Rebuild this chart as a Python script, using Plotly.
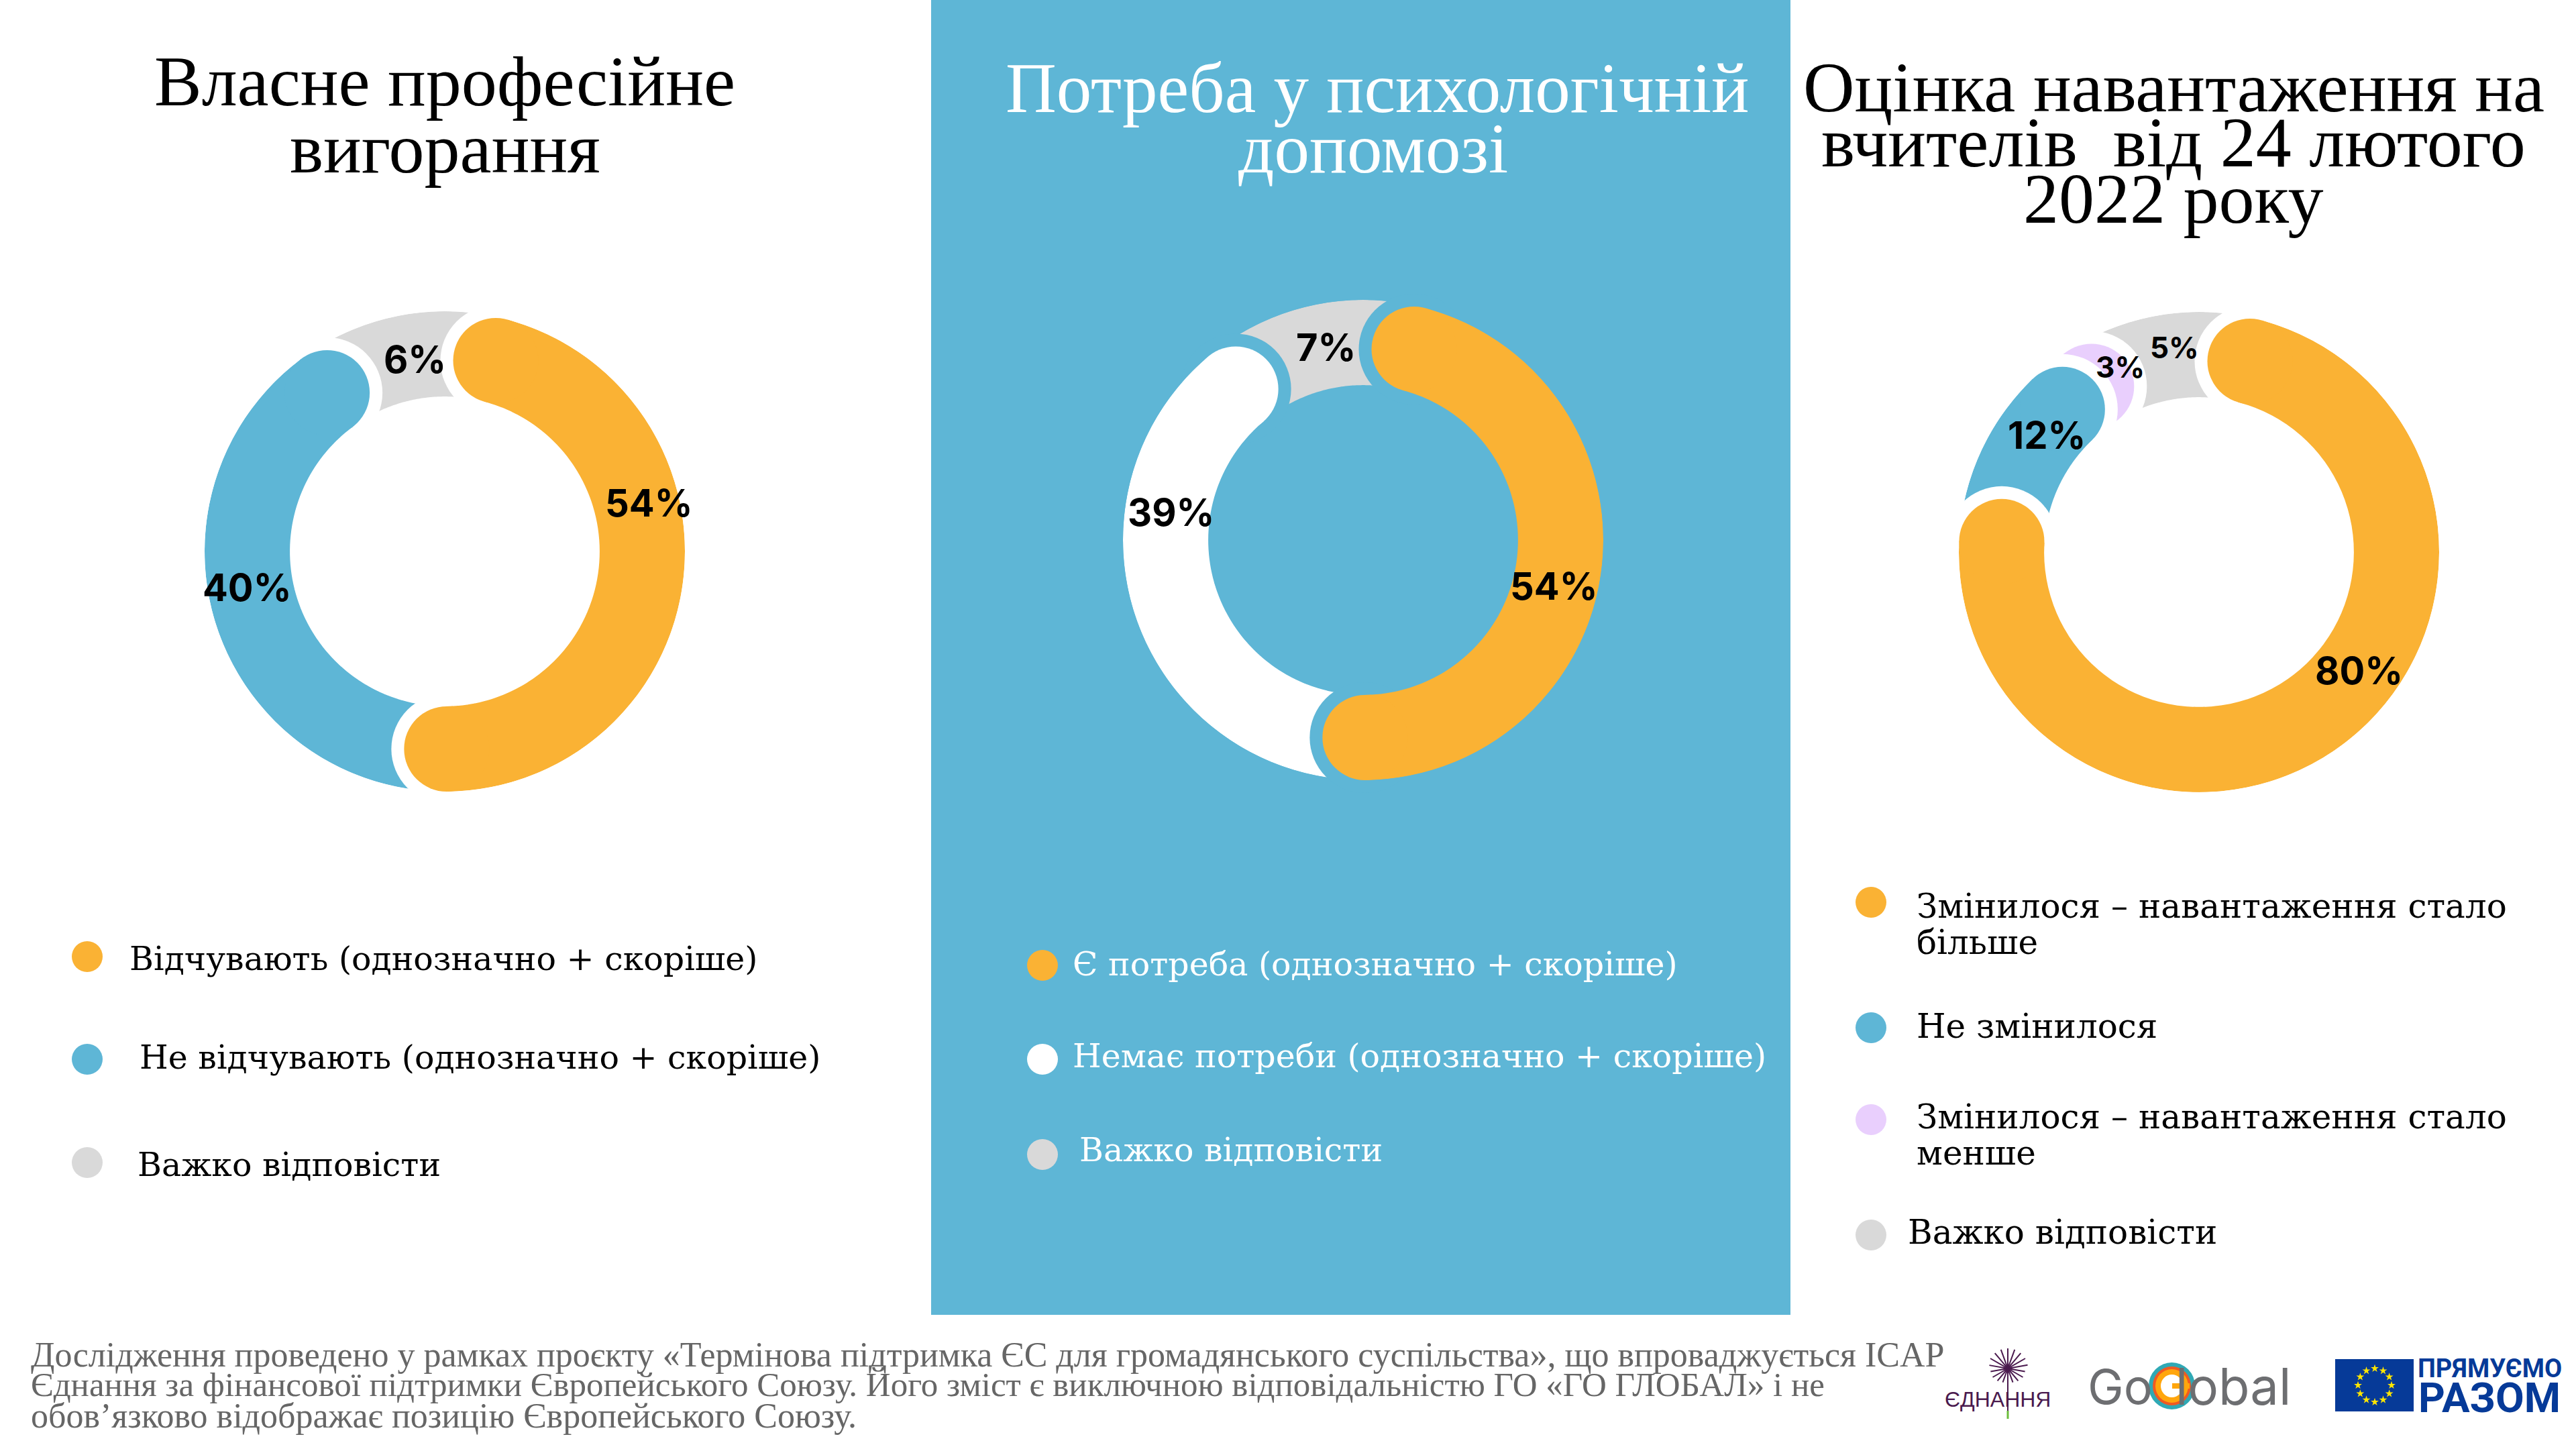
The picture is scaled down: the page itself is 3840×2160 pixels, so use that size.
import numpy as np
import plotly.graph_objects as go

# values, % (clockwise from 12 o'clock)
values_burnout = [54, 40, 6]
values_help = [54, 39, 7]
values_load = [80, 12, 3, 5]

ORANGE = "#FAB234"
BLUE = "#5EB6D6"
GREY = "#D9D9D9"
LILAC = "#E9CFFD"
WHITE = "#FFFFFF"

colors_burnout = [ORANGE, BLUE, GREY]
colors_help = [ORANGE, WHITE, GREY]
colors_load = [ORANGE, BLUE, LILAC, GREY]

titles_burnout = ["Власне професійне", "вигорання"]
titles_help = ["Потреба у психологічній", "допомозі"]
titles_load = ["Оцінка навантаження на", "вчителів\u00a0 від 24 лютого", "2022 року"]

legend_burnout = ["Відчувають (однозначно + скоріше)", "Не відчувають (однозначно + скоріше)", "Важко відповісти"]
legend_help = ["Є потреба (однозначно + скоріше)", "Немає потреби (однозначно + скоріше)", "Важко відповісти"]
legend_load = ["Змінилося – навантаження стало", "більше", "Не змінилося",
               "Змінилося – навантаження стало", "менше", "Важко відповісти"]

footer_lines = [
    "Дослідження проведено у рамках проєкту «Термінова підтримка ЄС для громадянського суспільства», що впроваджується ICAP",
    "Єднання за фінансової підтримки Європейського Союзу. Його зміст є виключною відповідальністю ГО «ГО ГЛОБАЛ» і не",
    "обов’язково відображає позицію Європейського Союзу.",
]

W, H = 3840, 2160
RADIUS = 358
HOLE = 0.645
MID = (1 + HOLE) / 2
THICK = (1 - HOLE) * RADIUS
CAP = np.degrees(np.arcsin((1 - HOLE) / 2 / MID)) + 2.5
GAP = 19
TITLE_FONT = "Liberation Serif"
TEXT_FONT = "DejaVu Serif"
LABEL_FONT = "Inter"

fig = go.Figure()
annotations = []
shapes = []


def text(x, y, s, size, color="#000000", family=TEXT_FONT, anchor="left"):
    annotations.append(dict(x=x, y=y, xref="x", yref="y", text=s, showarrow=False,
                            xanchor=anchor, yanchor="middle",
                            font=dict(size=size, color=color, family=family)))


def donut(values, colors, cx, cy, bg, name):
    fig.update_layout(**{name: dict(
        domain=dict(x=[(cx - RADIUS) / W, (cx + RADIUS) / W],
                    y=[1 - (cy + RADIUS) / H, 1 - (cy - RADIUS) / H]),
        bgcolor="rgba(0,0,0,0)",
        radialaxis=dict(visible=False, range=[0, 1]),
        angularaxis=dict(visible=False, rotation=90, direction="clockwise"),
    )})
    edges = np.cumsum([0] + values) * 3.6
    # last slice goes in first, each later slice bites into the one drawn before it
    for i in reversed(range(len(values))):
        first = i == 0
        last = i == len(values) - 1
        start = edges[i] + CAP if first else edges[i] - CAP
        end = 360 + CAP if last else edges[i + 1] - CAP
        caps = [] if last else [end]
        if first:
            caps.append(start)
        if caps:
            fig.add_trace(go.Scatterpolar(
                r=[MID] * len(caps), theta=caps, subplot=name, mode="markers",
                marker=dict(size=THICK + 2 * GAP, color=bg, line=dict(width=0)),
                hoverinfo="skip", showlegend=False, cliponaxis=False))
        fig.add_trace(go.Scatterpolar(
            r=[MID] * 80, theta=np.linspace(start, end, 80), subplot=name, mode="lines",
            line=dict(width=THICK, color=colors[i]),
            hoverinfo="skip", showlegend=False, cliponaxis=False))
        if caps:
            fig.add_trace(go.Scatterpolar(
                r=[MID] * len(caps), theta=caps, subplot=name, mode="markers",
                marker=dict(size=THICK, color=colors[i], line=dict(width=0)),
                hoverinfo="skip", showlegend=False, cliponaxis=False))


def dots(xs, ys, colors):
    fig.add_trace(go.Scatter(x=xs, y=ys, mode="markers",
                             marker=dict(size=46, color=colors, line=dict(width=0)),
                             hoverinfo="skip", showlegend=False))


# blue panel behind the middle chart
shapes.append(dict(type="rect", xref="x", yref="y", x0=1388, x1=2669, y0=0, y1=1960,
                   fillcolor=BLUE, line_width=0, layer="below"))

donut(values_burnout, colors_burnout, 663, 822, WHITE, "polar")
donut(values_help, colors_help, 2032, 805, BLUE, "polar2")
donut(values_load, colors_load, 3278, 823, WHITE, "polar3")

# percent labels
for v, x, y in zip(values_burnout, [967, 368, 618], [750, 876, 536]):
    text(x, y, f"<b>{v}%</b>", 56, family=LABEL_FONT, anchor="center")
for v, x, y in zip(values_help, [2316, 1745, 1976], [874, 764, 518]):
    text(x, y, f"<b>{v}%</b>", 56, family=LABEL_FONT, anchor="center")
for v, x, y, s in zip(values_load, [3516, 3051, 3160, 3241], [1000, 649, 547, 518], [56, 56, 44, 44]):
    text(x, y, f"<b>{v}%</b>", s, family=LABEL_FONT, anchor="center")

# titles
for s, y in zip(titles_burnout, [121, 221]):
    text(663, y, s, 106, family=TITLE_FONT, anchor="center")
for s, x, y in zip(titles_help, [2053, 2047], [131, 221]):
    text(x, y, s, 105, color=WHITE, family=TITLE_FONT, anchor="center")
for s, y in zip(titles_load, [130, 212, 296]):
    text(3240, y, s, 106, family=TITLE_FONT, anchor="center")

# legends
dots([130, 130, 130], [1426, 1579, 1733], colors_burnout)
for s, x, y in zip(legend_burnout, [191, 206, 203], [1429, 1576, 1736]):
    text(x, y, s, 49)
dots([1554, 1554, 1554], [1439, 1579, 1721], colors_help)
for s, x, y in zip(legend_help, [1597, 1597, 1607], [1437, 1574, 1714]):
    text(x, y, s, 49, color=WHITE)
dots([2789, 2789, 2789, 2789], [1345, 1532, 1669, 1841], colors_load)
for s, x, y in zip(legend_load, [2855, 2855, 2855, 2855, 2855, 2842], [1351, 1405, 1530, 1665, 1719, 1837]):
    text(x, y, s, 50)

# footer
for s, y, size in zip(footer_lines, [2019, 2064, 2110], [52, 51, 52]):
    text(44, y, s, size, color="#666666", family="Liberation Serif")

# Єднання logo
for a, l in zip([-80, -60, -40, -20, 0, 20, 40, 60, 80, 100, 120, 140, 160, 180, 200, 220, 240, 260],
                [28, 30, 30, 30, 30, 30, 30, 30, 30, 26, 26, 24, 22, 22, 22, 24, 26, 26]):
    shapes.append(dict(type="line", xref="x", yref="y", x0=2993, y0=2040,
                       x1=2993 + l * np.sin(np.radians(a)), y1=2040 - l * np.cos(np.radians(a)),
                       line=dict(color="#4A1A4E", width=2)))
shapes.append(dict(type="line", xref="x", yref="y", x0=2993, y0=2040, x1=2993, y1=2103,
                   line=dict(color="#4A1A4E", width=2)))
shapes.append(dict(type="line", xref="x", yref="y", x0=2993, y0=2103, x1=2993, y1=2115,
                   line=dict(color="#6CBE3C", width=3)))
text(2978, 2086, "ЄДНАННЯ", 32, color="#4A1A4E", family="Liberation Sans", anchor="center")

# GoGlobal logo
text(3160, 2066, "Go", 72, color="#6D6E71", family="Inter", anchor="center")
text(3329, 2066, "lobal", 76, color="#6D6E71", family="Inter", anchor="center")
for c, dx, dy in [("#2FA9B5", 0, 0), ("#F05A22", 6, 6), ("#FFA60D", 10, 10), (WHITE, 18, 18)]:
    shapes.append(dict(type="circle", xref="x", yref="y", x0=3203 + dx, x1=3272 - dx,
                       y0=2031 + dy, y1=2101 - dy, fillcolor=c, line_width=0))
shapes.append(dict(type="rect", xref="x", yref="y", x0=3238, x1=3264, y0=2062, y1=2070,
                   fillcolor="#FFA60D", line_width=0))

# EU flag with text
shapes.append(dict(type="rect", xref="x", yref="y", x0=3481, x1=3598, y0=2026, y1=2104,
                   fillcolor="#063A98", line_width=0, layer="below"))
star_angles = np.radians(np.arange(0, 360, 30))
fig.add_trace(go.Scatter(x=3540 + 25 * np.sin(star_angles), y=2065 - 25 * np.cos(star_angles), mode="markers",
                         marker=dict(symbol="star", size=9, color="#FFE600", line=dict(width=0)),
                         hoverinfo="skip", showlegend=False))
text(3711, 2040, "<b>ПРЯМУЄМО</b>", 38, color="#063A98", family="Roboto", anchor="center")
text(3711, 2083, "<b>РАЗОМ</b>", 62, color="#063A98", family="Roboto", anchor="center")

fig.update_layout(
    width=W, height=H, margin=dict(l=0, r=0, t=0, b=0),
    paper_bgcolor=WHITE, plot_bgcolor="rgba(0,0,0,0)",
    xaxis=dict(visible=False, range=[0, W], domain=[0, 1], fixedrange=True),
    yaxis=dict(visible=False, range=[H, 0], domain=[0, 1], fixedrange=True),
    annotations=annotations, shapes=shapes,
)

fig.write_html("out.html", config={"displayModeBar": False}, post_script="document.body.style.margin='0';")
